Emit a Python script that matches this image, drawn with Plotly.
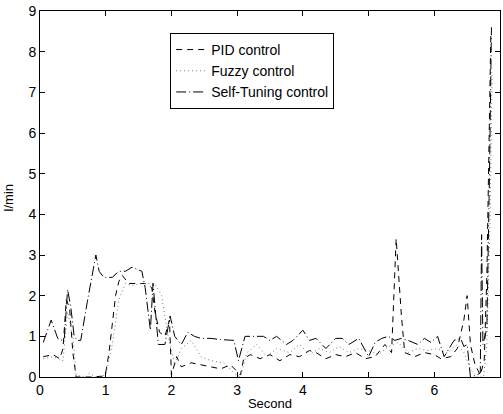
import plotly.graph_objects as go

# PID control (dashed)
pid_x = [0.05,0.2,0.3,0.35,0.4,0.45,0.5,0.55,0.65,0.8,0.95,1.0,1.05,1.1,1.15,1.2,1.25,1.35,1.5,1.6,1.7,1.75,1.82,1.9,1.97,
         2.0,2.08,2.15,2.3,2.45,2.6,2.75,2.9,3.0,3.05,3.1,3.2,3.35,3.5,3.65,3.8,3.95,4.1,4.2,4.35,4.5,4.65,4.8,4.95,
         5.1,5.25,5.35,5.42,5.5,5.55,5.7,5.85,6.0,6.1,6.25,6.35,6.45,6.5,6.55,6.62,6.7,6.76,6.8,6.84,6.86]
pid_y = [0.5,0.55,0.45,0.7,1.9,1.7,0.6,0.0,0.0,0.0,0.02,0.1,0.6,1.3,2.0,2.35,2.5,2.3,2.3,2.3,2.2,1.6,1.1,1.0,1.4,
         0.05,0.5,0.25,0.35,0.3,0.25,0.2,0.3,0.15,0.05,0.45,0.55,0.45,0.55,0.4,0.55,0.5,0.65,0.6,0.45,0.55,0.5,0.6,0.45,
         0.5,0.8,0.6,3.4,1.5,0.6,0.5,0.6,0.55,0.45,0.5,0.7,1.4,2.0,0.8,0.3,0.05,0.4,2.5,6.0,8.4]

# Fuzzy control (dotted)
fuzzy_x = [0.05,0.2,0.35,0.42,0.5,0.55,0.7,0.75,0.85,1.0,1.1,1.2,1.3,1.4,1.55,1.75,1.85,1.95,2.05,2.15,2.3,2.45,2.6,
           2.8,2.95,3.05,3.15,3.3,3.45,3.6,3.8,3.95,4.1,4.25,4.4,4.55,4.7,4.85,5.0,5.15,5.3,5.45,5.6,5.75,5.9,6.05,
           6.2,6.35,6.45,6.55,6.65,6.75,6.8,6.85,6.88]
fuzzy_y = [0.45,0.5,0.4,1.6,1.0,0.05,0.0,0.1,0.0,0.05,0.8,1.9,2.3,2.25,2.3,2.3,2.0,1.0,0.3,0.7,0.9,0.5,0.4,
           0.35,0.1,0.0,0.6,0.8,0.5,0.7,0.6,0.8,0.55,0.7,0.6,0.75,0.6,0.7,0.65,0.55,0.75,0.85,0.6,0.7,0.65,0.7,
           0.6,0.8,0.6,0.2,0.0,0.0,0.8,4.0,7.5]

# Self-Tuning control (dash-dot)
st_x = [0.05,0.17,0.27,0.32,0.37,0.42,0.47,0.52,0.57,0.62,0.72,0.78,0.85,0.9,0.97,1.1,1.2,1.3,1.4,1.55,1.6,1.68,1.72,
        1.8,1.9,1.98,2.05,2.15,2.25,2.35,2.45,2.6,2.75,2.95,3.02,3.12,3.25,3.4,3.5,3.6,3.75,3.85,4.0,4.1,4.2,4.35,
        4.5,4.6,4.7,4.85,5.0,5.1,5.2,5.3,5.4,5.5,5.6,5.75,5.85,5.95,6.05,6.15,6.3,6.4,6.45,6.5,6.55,6.65,6.7,6.72,
        6.74,6.8,6.84,6.87]
st_y = [0.85,1.4,0.95,0.9,0.95,2.15,1.7,1.0,0.9,0.9,1.85,2.4,3.0,2.6,2.45,2.45,2.6,2.6,2.7,2.6,2.2,1.15,2.3,
        0.8,0.8,1.5,1.0,0.8,1.1,1.0,0.95,0.95,0.92,0.9,0.4,1.0,1.0,1.0,0.9,1.0,0.8,0.9,1.15,0.9,0.95,0.7,
        0.95,0.95,0.8,0.95,0.5,0.85,0.95,1.0,0.9,0.95,0.9,0.8,0.95,0.85,1.0,0.5,0.9,0.95,0.75,0.8,0.0,0.05,0.1,3.5,
        0.8,1.2,5.0,8.6]

x_ticks = [0, 1, 2, 3, 4, 5, 6, 7]
y_ticks = [0, 1, 2, 3, 4, 5, 6, 7, 8, 9]

fig = go.Figure()
fig.add_trace(go.Scatter(x=pid_x, y=pid_y, mode="lines", name="PID control",
                         line=dict(color="black", width=1, dash="6px,5px")))
fig.add_trace(go.Scatter(x=fuzzy_x, y=fuzzy_y, mode="lines", name="Fuzzy control",
                         line=dict(color="#777777", width=1, dash="1px,3px")))
fig.add_trace(go.Scatter(x=st_x, y=st_y, mode="lines", name="Self-Tuning control",
                         line=dict(color="black", width=1, dash="10px,3px,1px,3px")))

axis_common = dict(showline=True, linecolor="black", linewidth=1, mirror="ticks",
                   ticks="inside", ticklen=5, tickcolor="black", showgrid=False, zeroline=False,
                   automargin=False,
                   tickfont=dict(family="Liberation Sans, Arial, sans-serif", size=14, color="black"))

fig.update_layout(
    width=503, height=414,
    margin=dict(l=40, r=3, t=11, b=37, autoexpand=False),
    paper_bgcolor="white", plot_bgcolor="white",
    font=dict(family="Liberation Sans, Arial, sans-serif", color="black"),
    xaxis=dict(range=[0, 7], tickvals=x_ticks, title=dict(text="Second", font=dict(size=13), standoff=2), **axis_common),
    yaxis=dict(range=[0, 9], tickvals=y_ticks, **axis_common),
    legend=dict(x=0.283, y=0.94, xanchor="left", yanchor="top", bgcolor="white",
                bordercolor="black", borderwidth=1, font=dict(size=14), tracegroupgap=0,
                itemwidth=30),
    showlegend=True,
    annotations=[dict(text="l/min", textangle=-90, xref="paper", yref="paper",
                      x=-0.068, y=0.49, xanchor="center", yanchor="middle",
                      showarrow=False, font=dict(size=13, color="black"))],
)

fig.write_html("out.html", config={"displayModeBar": False},
               post_script="document.body.style.margin='0';document.body.style.padding='0';")
